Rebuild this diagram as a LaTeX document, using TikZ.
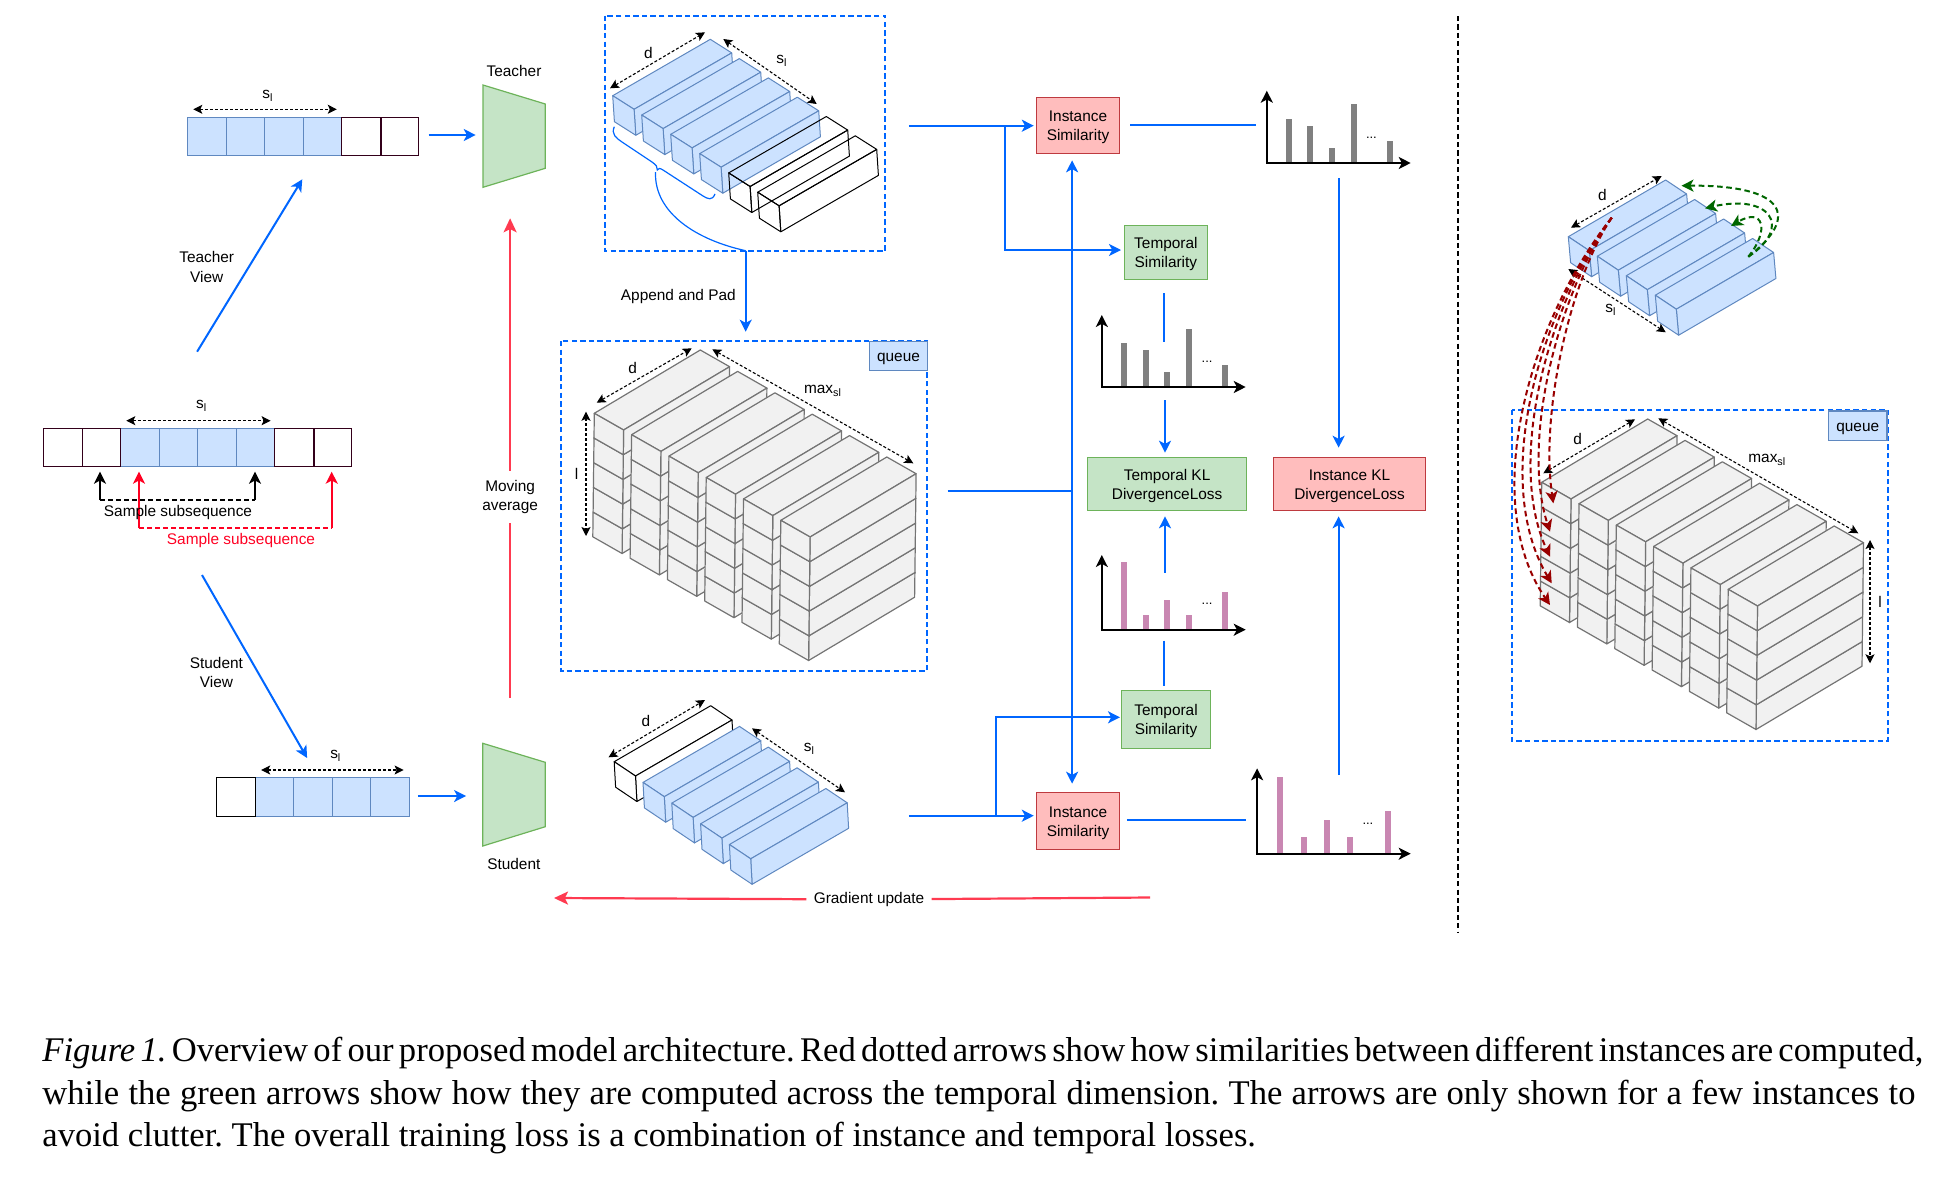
\documentclass[tikz,border=0pt]{standalone}
\usepackage{fontspec}
\setmainfont{Liberation Sans}
\newfontfamily\capfont{Liberation Serif}
\usetikzlibrary{arrows.meta}

\definecolor{flowblue}{HTML}{0066FF}
\definecolor{cellblue}{HTML}{CCE2FF}
\definecolor{edgeblue}{HTML}{5F88C0}
\definecolor{cellmaroon}{HTML}{33001A}
\definecolor{netgreen}{HTML}{C5E4C6}
\definecolor{edgegreen}{HTML}{6DB35A}
\definecolor{boxpink}{HTML}{FFBDBD}
\definecolor{edgered}{HTML}{BE3A3F}
\definecolor{emared}{HTML}{FF3A50}
\definecolor{samplered}{HTML}{FF0022}
\definecolor{bargrey}{HTML}{808080}
\definecolor{barpurple}{HTML}{C987B2}
\definecolor{queuegrey}{HTML}{F1F1F1}
\definecolor{queueedge}{HTML}{747474}
\definecolor{instred}{HTML}{990000}
\definecolor{tempgreen}{HTML}{006600}

\newcommand{\lblfont}{\fontsize{7.7}{9.7}\selectfont}
\newcommand{\boxstrut}{\rule{0pt}{7.3pt}}

\tikzset{
  lbl/.style={font=\lblfont, align=center, inner sep=0pt},
  tiny dots/.style={font=\fontsize{6.5}{6.5}\selectfont, inner sep=0pt},
  pinkbox/.style={lbl, draw=edgered, fill=boxpink, line width=.6pt},
  greenbox/.style={lbl, draw=edgegreen, fill=netgreen, line width=.6pt},
  queuetag/.style={lbl, draw=edgeblue, fill=cellblue, line width=.6pt, text height=6.5pt, text depth=1pt},
  flowline/.style={draw=flowblue, line width=1pt},
  flow/.style={flowline, -{Stealth[length=6pt,width=6pt,inset=1.6pt]}},
  emaline/.style={draw=emared, line width=1.1pt},
  ema/.style={emaline, -{Stealth[length=7pt,width=6.5pt,inset=1.6pt]}},
  span/.style={draw=black, line width=.55pt, dash pattern=on 1.5pt off 1pt,
    {Stealth[length=4.5pt,width=4.5pt,inset=1pt]}-{Stealth[length=4.5pt,width=4.5pt,inset=1pt]}},
  groupbox/.style={draw=flowblue, line width=1pt, dash pattern=on 2.7pt off 1.6pt},
  bluecell/.style={draw=edgeblue, fill=cellblue, line width=.6pt},
  whitecell/.style={draw=cellmaroon, line width=.7pt},
  bluebar/.style={draw=edgeblue, fill=cellblue, line width=.5pt, line join=round},
  whitebar/.style={draw=black, line width=.5pt, line join=round},
  whitefillbar/.style={whitebar, fill=white},
  greybar/.style={draw=queueedge, fill=queuegrey, line width=.6pt, line join=round},
  netshape/.style={draw=edgegreen, fill=netgreen, line width=.6pt},
  chartaxis/.style={draw=black, line width=1pt,
    {Stealth[length=6pt,width=6pt,inset=1.6pt]}-{Stealth[length=6pt,width=6pt,inset=1.6pt]}},
  instarrow/.style={draw=instred, line width=1pt, dash pattern=on 2.8pt off 1.8pt,
    -{Stealth[length=6pt,width=6pt,inset=1.6pt]}},
  temparrow/.style={draw=tempgreen, line width=1pt, dash pattern=on 2.8pt off 1.8pt,
    -{Stealth[length=6pt,width=6pt,inset=1.6pt]}},
}

\newcommand{\barshape}[6]{\def\barux{#1}\def\baruy{#2}\def\barvx{#3}\def\barvy{#4}\def\barhx{#5}\def\barhy{#6}}
\newcommand{\cuboid}[3]{%
  \begin{scope}[shift={(#2,#3)}]
    \draw[#1] (0,0) -- (\barux,\baruy) -- ++(\barvx,\barvy) -- (\barvx,\barvy) -- cycle;
    \draw[#1] (\barvx,\barvy) -- ++(\barux,\baruy) -- ++(\barhx,\barhy) -- ++({-1*\barux},{-1*\baruy}) -- cycle;
    \draw[#1] (0,0) -- (\barvx,\barvy) -- ++(\barhx,\barhy) -- ++({-1*\barvx},{-1*\barvy}) -- cycle;
  \end{scope}}
\newcommand{\queuestack}[2]{%
  \barshape{106}{-63.3}{29.3}{16.7}{-0.3}{24.7}
  \foreach \col in {0,...,5} {
    \foreach \lev in {4,...,0} {
      \cuboid{greybar}{#1+\col*37.3-\lev*0.3}{#2+\col*21.4+\lev*24.7}
    }
  }}
\newcommand{\simchart}[6]{%
  \foreach \bx/\bt in {#6} {
    \fill[#5] ({\bx-3},\bt) rectangle ({\bx+3},#3);
  }
  \draw[chartaxis] (#1,#2) -- (#1,#3) -- (#4,#3);}

\begin{document}
\begin{tikzpicture}[x=0.5pt,y=-0.5pt]
  \useasboundingbox (0,0) rectangle (1952,1178);

  % input sequences
  \foreach \a/\b in {187.5/226.6,226.6/264.8,264.8/303.5,303.5/341.4} {
    \draw[bluecell] (\a,117.3) rectangle (\b,155.7);
  }
  \foreach \a/\b in {341.4/380.8,380.8/418.7} {
    \draw[whitecell] (\a,117.3) rectangle (\b,155.7);
  }
  \foreach \a/\b in {120.5/159.6,159.6/197.5,197.5/236.5,236.5/274.4} {
    \draw[bluecell] (\a,428.3) rectangle (\b,466.7);
  }
  \foreach \a/\b in {43.2/82.3,82.3/120.5,274.4/313.8,313.8/351.3} {
    \draw[whitecell] (\a,428.3) rectangle (\b,466.7);
  }
  \foreach \a/\b in {255.5/293.3,293.3/332.4,332.4/370.3,370.3/409.3} {
    \draw[bluecell] (\a,777.3) rectangle (\b,816.7);
  }
  \draw[whitecell,draw=black] (216.4,777.3) rectangle (255.5,816.7);

  \coordinate (tspanl) at (193.3,109.3);
  \coordinate (tspanr) at (336.8,109.3);
  \draw[span] (tspanl) -- (tspanr);
  \node[lbl] (tspan) at (267.9,96) {s\textsubscript{l}};
  \coordinate (mspanl) at (126.3,420.7);
  \coordinate (mspanr) at (270.6,420.7);
  \draw[span] (mspanl) -- (mspanr);
  \node[lbl] (mspan) at (201.7,406) {s\textsubscript{l}};
  \coordinate (sspanl) at (261.2,770);
  \coordinate (sspanr) at (403.6,770);
  \draw[span] (sspanl) -- (sspanr);
  \node[lbl] (sspan) at (335.8,756) {s\textsubscript{l}};

  % sampled views
  \coordinate (blacka) at (100,471.7);
  \coordinate (blackb) at (255,471.7);
  \coordinate (blackal) at (100,500);
  \coordinate (blackbl) at (255,500);
  \draw[draw=black, line width=1pt, -{Stealth[length=6pt,width=6pt,inset=1.6pt]}] (blackal) -- (blacka);
  \draw[draw=black, line width=1pt, -{Stealth[length=6pt,width=6pt,inset=1.6pt]}] (blackbl) -- (blackb);
  \draw[draw=black, line width=1pt, dash pattern=on 2.6pt off 1.4pt] (blackal) -- (blackbl);
  \coordinate (reda) at (139,471.7);
  \coordinate (redb) at (331.7,471.7);
  \coordinate (redal) at (139,528.3);
  \coordinate (redbl) at (331.7,528.3);
  \draw[draw=samplered, line width=.9pt, -{Stealth[length=6pt,width=6pt,inset=1.6pt]}] (redal) -- (reda);
  \draw[draw=samplered, line width=.9pt, -{Stealth[length=6pt,width=6pt,inset=1.6pt]}] (redbl) -- (redb);
  \draw[draw=samplered, line width=.9pt, dash pattern=on 2.6pt off 1.4pt] (redal) -- (redbl);
  \node[lbl] (sampleblack) at (178,513) {Sample subsequence};
  \node[lbl,text=samplered] (samplered) at (241,540.5) {Sample subsequence};

  \coordinate (tviewa) at (197.1,351.7);
  \coordinate (tviewb) at (302.3,179.3);
  \draw[flow] (tviewa) -- (tviewb);
  \node[lbl] (tview) at (206.7,267) {Teacher\\View};
  \coordinate (sviewa) at (202,575);
  \coordinate (sviewb) at (307.1,758);
  \draw[flow] (sviewa) -- (sviewb);
  \node[lbl] (sview) at (216.4,672.2) {Student\\View};

  % networks
  \draw[netshape] (483,85) -- (545.3,104) -- (545.3,168.3) -- (483,187.3) -- cycle;
  \node[lbl] (teacher) at (514,71) {Teacher};
  \draw[netshape] (482.8,743.3) -- (545.3,762.3) -- (545.3,826.7) -- (482.8,846) -- cycle;
  \node[lbl] (student) at (513.8,864) {Student};
  \coordinate (tina) at (428.6,135);
  \coordinate (tinb) at (475.7,135);
  \draw[flow] (tina) -- (tinb);
  \coordinate (sina) at (417.9,796);
  \coordinate (sinb) at (466.1,796);
  \draw[flow] (sina) -- (sinb);

  \node[lbl,inner xsep=2pt,inner ysep=4.5pt] (movingavg) at (510.1,497) {Moving\\average};
  \coordinate (emabot) at (510.1,698);
  \coordinate (ematop) at (510.1,218.3);
  \draw[emaline] (emabot) -- (movingavg);
  \draw[ema] (movingavg) -- (ematop);

  \node[lbl,inner xsep=3.5pt,inner ysep=2pt] (gradupd) at (869,899.5) {Gradient update};
  \coordinate (gradtip) at (554,898);
  \coordinate (gradend) at (1150,897.5);
  \draw[emaline] (gradend) -- (gradupd);
  \draw[ema] (gradupd) -- (gradtip);

  % teacher batch
  \draw[groupbox] (605,15.7) rectangle (885.3,251);
  \barshape{97.6}{-56.4}{21.4}{13.6}{1.7}{26}
  \foreach \i in {0,...,3} {
    \cuboid{bluebar}{612.7+\i*29}{95.7+\i*19.3}
  }
  \foreach \i in {4,5} {
    \cuboid{whitebar}{612.7+\i*29}{95.7+\i*19.3}
  }
  \draw[flowline,line width=.6pt] (614.3,126.7) .. controls (611,134) and (616,138) .. (622,142)
    -- (652,162) .. controls (656,165) and (658,167) .. (657.3,170)
    .. controls (658,168) and (660,168) .. (663,170) -- (703,196)
    .. controls (708,199) and (712,201) .. (715,194);
  \coordinate (braceend) at (745.7,250.7);
  \draw[flowline,line width=.6pt] (655.5,172) .. controls (654,213) and (696.7,240) .. (braceend);
  \coordinate (appendtip) at (745.7,331.7);
  \draw[flow] (braceend) -- (appendtip);
  \node[lbl] (appendpad) at (678.3,297) {Append and Pad};
  \coordinate (tdl) at (610,88.3);
  \coordinate (tdr) at (705,32.3);
  \draw[span] (tdl) -- (tdr);
  \node[lbl] (tdlabel) at (648.3,52.7) {d};
  \coordinate (tsl) at (723.3,39);
  \coordinate (tsr) at (816.7,104);
  \draw[span] (tsl) -- (tsr);
  \node[lbl] (tslabel) at (782,61) {s\textsubscript{l}};

  % queue
  \draw[groupbox] (561,341) rectangle (927.3,670.7);
  \queuestack{594.3}{413.3}
  \node[queuetag,minimum width=29.2pt,minimum height=14.7pt] (queuel) at (898.5,356) {queue};
  \coordinate (qdl) at (596.7,402.7);
  \coordinate (qdr) at (691.7,348.3);
  \draw[span] (qdl) -- (qdr);
  \node[lbl] (qdlabel) at (632.7,367.7) {d};
  \coordinate (qml) at (712.3,349.3);
  \coordinate (qmr) at (913.3,463.3);
  \draw[span] (qml) -- (qmr);
  \node[lbl] (qmlabel) at (823,391) {max\textsubscript{sl}};
  \coordinate (qlt) at (586,411.7);
  \coordinate (qlb) at (586,536);
  \draw[span] (qlt) -- (qlb);
  \node[lbl] (qllabel) at (576.7,474) {l};

  % student batch
  \barshape{96.5}{-56}{21.3}{14.3}{1.4}{25.5}
  \cuboid{whitefillbar}{614.2}{761.7}
  \foreach \i in {1,...,4} {
    \cuboid{bluebar}{614.2+\i*28.8}{761.7+\i*20.7}
  }
  \coordinate (sdl) at (608.5,757.3);
  \coordinate (sdr) at (705,700);
  \draw[span] (sdl) -- (sdr);
  \node[lbl] (sdlabel) at (645.8,721) {d};
  \coordinate (ssl) at (752,728.3);
  \coordinate (ssr) at (845,792.3);
  \draw[span] (ssl) -- (ssr);
  \node[lbl] (sslabel) at (809.4,749) {s\textsubscript{l}};

  % similarity boxes
  \node[pinkbox,minimum width=41.6pt,minimum height=28.2pt] (instT) at (1078,125.5) {\boxstrut Instance\\Similarity};
  \node[pinkbox,minimum width=41.6pt,minimum height=28.7pt] (instS) at (1078,821) {\boxstrut Instance\\Similarity};
  \node[greenbox,minimum width=41.6pt,minimum height=27.2pt] (tempT) at (1165.9,252.5) {\boxstrut Temporal\\Similarity};
  \node[greenbox,minimum width=44.7pt,minimum height=29.2pt] (tempS) at (1166,719.5) {\boxstrut Temporal\\Similarity};
  \node[greenbox,minimum width=79.7pt,minimum height=26.7pt] (klT) at (1167.1,484) {\boxstrut Temporal KL\\DivergenceLoss};
  \node[pinkbox,minimum width=76.3pt,minimum height=26.7pt] (klI) at (1349.5,484) {\boxstrut Instance KL\\DivergenceLoss};

  % charts
  \simchart{1266.8}{90.7}{163}{1410.7}{bargrey}{1288.9/119,1310/126,1331.8/148,1353.9/104,1390/141}
  \node[tiny dots] (dotsA) at (1371.4,138) {...};
  \simchart{1101.8}{315}{387}{1245.7}{bargrey}{1123.9/343,1145.7/350,1166.8/372,1188.9/329,1225/365}
  \node[tiny dots] (dotsB) at (1207.1,362) {...};
  \simchart{1101.8}{555}{629.7}{1245.7}{barpurple}{1123.9/562,1145.7/615,1166.8/600,1188.9/615,1225/592}
  \node[tiny dots] (dotsC) at (1207.1,604) {...};
  \simchart{1257.1}{768.3}{853.7}{1410.7}{barpurple}{1280.4/777,1303.9/837,1326.8/820,1350/837,1387.9/811}
  \node[tiny dots] (dotsD) at (1367.9,824) {...};

  % flow between boxes and charts
  \coordinate (topout) at (908.9,125.7);
  \draw[flow,shorten >=1pt] (topout) -- (instT.west |- topout);
  \coordinate (tbranch) at (1005.4,125.7);
  \coordinate (tempTin) at (1121,250);
  \draw[flow] (tbranch) |- (tempTin);
  \coordinate (stuout) at (908.9,815.7);
  \draw[flow,shorten >=1pt] (stuout) -- (instS.west |- stuout);
  \coordinate (sbranch) at (996,815.7);
  \coordinate (tempSin) at (1120,717.3);
  \draw[flow] (sbranch) |- (tempSin);
  \coordinate (queueout) at (947.5,491.3);
  \coordinate (queuejoin) at (1072.1,491.3);
  \draw[flowline] (queueout) -- (queuejoin);
  \draw[flow,shorten >=3pt] (queuejoin) -- (queuejoin |- instT.south);
  \draw[flow,shorten >=4pt] (queuejoin) -- (queuejoin |- instS.north);

  \coordinate (instTout) at (1130.4,125);
  \coordinate (instTend) at (1256,125);
  \draw[flowline] (instTout) -- (instTend);
  \coordinate (chartAout) at (1338.6,178.3);
  \draw[flow,shorten >=4.5pt] (chartAout) -- (chartAout |- klI.north);
  \coordinate (tempTout) at (1163.9,293.3);
  \coordinate (tempTend) at (1163.9,341.7);
  \draw[flowline] (tempTout) -- (tempTend);
  \coordinate (chartBout) at (1165,400);
  \draw[flow,shorten >=2pt] (chartBout) -- (chartBout |- klT.north);
  \coordinate (chartCout) at (1165,572.7);
  \draw[flow,shorten >=2.5pt] (chartCout) -- (chartCout |- klT.south);
  \coordinate (tempSout) at (1163.6,640.7);
  \coordinate (tempSend) at (1163.6,685.7);
  \draw[flowline] (tempSout) -- (tempSend);
  \coordinate (instSout) at (1126.8,820.3);
  \coordinate (instSend) at (1246.4,820.3);
  \draw[flowline] (instSout) -- (instSend);
  \coordinate (chartDout) at (1338.6,775);
  \draw[flow,shorten >=2.5pt] (chartDout) -- (chartDout |- klI.south);

  % divider
  \coordinate (dividetop) at (1458,16);
  \coordinate (dividebot) at (1458,933);
  \draw[draw=black, line width=1pt, dash pattern=on 2.6pt off 1.6pt] (dividetop) -- (dividebot);

  % right panel
  \draw[groupbox] (1511.7,410) rectangle (1887.7,740.7);
  \queuestack{1541.7}{482.3}
  \node[queuetag,minimum width=29.3pt,minimum height=14.8pt] (queuer) at (1857.7,425.8) {queue};
  \coordinate (rdl) at (1543.3,473.3);
  \coordinate (rdr) at (1635,419.3);
  \draw[span] (rdl) -- (rdr);
  \node[lbl] (rdlabel) at (1577.7,439) {d};
  \coordinate (rml) at (1658.3,418.3);
  \coordinate (rmr) at (1858.3,533.3);
  \draw[span] (rml) -- (rmr);
  \node[lbl] (rmlabel) at (1767.3,460) {max\textsubscript{sl}};
  \coordinate (rlt) at (1870,540);
  \coordinate (rlb) at (1870,663.3);
  \draw[span] (rlt) -- (rlb);
  \node[lbl] (rllabel) at (1880,601.7) {l};

  \barshape{97.3}{-56.7}{21}{14}{2.3}{26}
  \foreach \i in {0,...,3} {
    \cuboid{bluebar}{1568.3+\i*29}{236.7+\i*19.5}
  }
  \coordinate (bdl) at (1571,227.7);
  \coordinate (bdr) at (1661.7,176);
  \draw[span] (bdl) -- (bdr);
  \node[lbl] (bdlabel) at (1602.3,195) {d};
  \coordinate (bsl) at (1568.3,269);
  \coordinate (bsr) at (1665.7,332.3);
  \draw[span] (bsl) -- (bsr);
  \node[lbl] (bslabel) at (1611,310) {s\textsubscript{l}};

  \coordinate (tempstart) at (1748.3,256.7);
  \coordinate (tempendA) at (1681.5,185.7);
  \coordinate (tempendB) at (1705,208.3);
  \coordinate (tempendC) at (1731,226);
  \draw[temparrow] (tempstart) .. controls (1800,216.7) and (1786.7,185) .. (tempendA);
  \draw[temparrow] (tempstart) .. controls (1793.3,226.7) and (1770,193.3) .. (tempendB);
  \draw[temparrow] (tempstart) .. controls (1770,230) and (1763.3,206.7) .. (tempendC);

  \coordinate (inststart) at (1611.7,217.7);
  \foreach \i/\ax/\ay/\bx/\by/\ex/\ey in {
      1/1570/280/1540/413/1553.3/503.3,
      2/1560/290/1520/440/1550/531.7,
      3/1550/300/1505/460/1550/556.7,
      4/1540/310/1490/480/1551.7/583.3,
      5/1530/320/1478/500/1550/605} {
    \coordinate (instend\i) at (\ex,\ey);
    \draw[instarrow] (inststart) .. controls (\ax,\ay) and (\bx,\by) .. (instend\i);
  }

  % caption
  \node[anchor=north west,inner sep=0pt,align=left,
    font=\capfont\fontsize{17.3}{21.3}\selectfont\frenchspacing] (caption) at (42,1037)
    {\hbox to 940.5pt{\spaceskip=.2em plus .2em minus .05em\textit{Figure 1.} Overview of our proposed model architecture. Red dotted arrows show how similarities between different instances are computed,}\\
     \hbox to 936.5pt{while the green arrows show how they are computed across the temporal dimension. The arrows are only shown for a few instances to}\\
     avoid clutter. The overall training loss is a combination of instance and temporal losses.};
\end{tikzpicture}
\end{document}
